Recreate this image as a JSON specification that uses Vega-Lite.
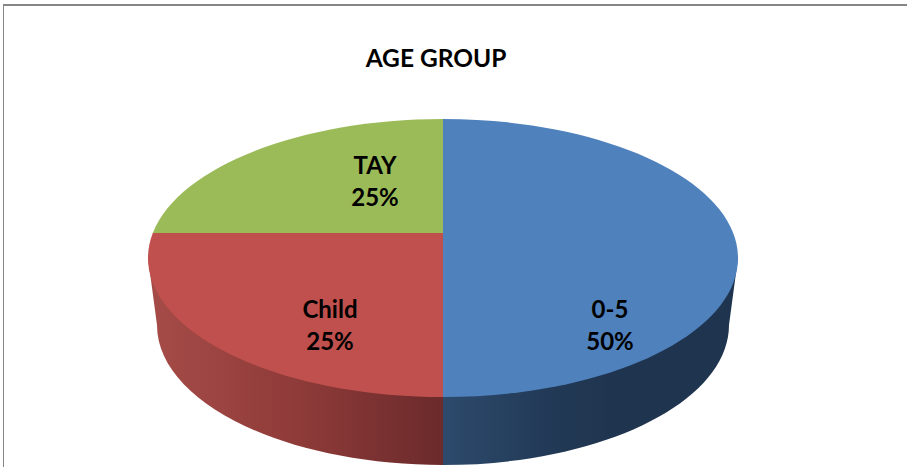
{
  "$schema": "https://vega.github.io/schema/vega-lite/v6.json",
  "width": 907,
  "height": 467,
  "autosize": "none",
  "padding": 0,
  "background": "white",
  "config": {"view": {"stroke": null}},
  "title": {"text": "AGE GROUP", "anchor": "middle", "offset": -72, "dx": -17.5, "font": "Lato", "fontSize": 24.5, "fontWeight": "bold", "color": "#000000"},
  "data": {"values": [
    {"group": "0-5", "value": 50},
    {"group": "Child", "value": 25},
    {"group": "TAY", "value": 25}
  ]},
  "transform": [{"calculate": "[datum.group, datum.value + '%']", "as": "label"}],
  "layer": [
    {
      "mark": {"type": "rule", "color": "#868686", "strokeWidth": 2},
      "encoding": {"y": {"value": 5}, "x": {"value": 3}, "x2": {"value": 907}}
    },
    {
      "mark": {"type": "rule", "color": "#868686", "strokeWidth": 1},
      "encoding": {"x": {"value": 3.5}, "y": {"value": 4}, "y2": {"value": 467}}
    },
    {
      "transform": [{"filter": "datum.group === 'Child'"}],
      "mark": {"type": "point", "filled": true, "opacity": 1, "size": 4, "xOffset": -10.5, "yOffset": -0.5,
        "shape": "M-295,25 L-286,92 A286,140 0 0 0 0,232 L0,25 Z",
        "fill": {"gradient": "linear", "x1": 0, "x2": 1, "y1": 0, "y2": 0, "stops": [
          {"offset": 0, "color": "#a64c48"},
          {"offset": 0.5, "color": "#8f3b39"},
          {"offset": 1, "color": "#6b2a2b"}
        ]}}
    },
    {
      "transform": [{"filter": "datum.group === '0-5'"}],
      "mark": {"type": "point", "filled": true, "opacity": 1, "size": 4, "xOffset": -10.5, "yOffset": -0.5,
        "shape": "M0,25 L0,232 A286,140 0 0 0 286,92 L295,25 Z",
        "fill": {"gradient": "linear", "x1": 0, "x2": 1, "y1": 0, "y2": 0, "stops": [
          {"offset": 0, "color": "#2d4a6c"},
          {"offset": 0.35, "color": "#223a57"},
          {"offset": 0.6, "color": "#1f344e"},
          {"offset": 1, "color": "#1f344e"}
        ]}}
    },
    {
      "mark": {"type": "point", "filled": true, "opacity": 1, "size": 4, "xOffset": -10.5, "yOffset": -0.5},
      "encoding": {
        "shape": {"field": "group", "type": "nominal", "legend": null, "scale": {
          "domain": ["0-5", "Child", "TAY"],
          "range": [
            "M0,-114 A295,139 0 0 1 0,164 Z",
            "M0,0 L-290.2,0 A295,139 0 0 0 0,164 Z",
            "M0,0 L0,-114 A295,139 0 0 0 -290.2,0 Z"
          ]}},
        "color": {"field": "group", "type": "nominal", "legend": null, "scale": {
          "domain": ["0-5", "Child", "TAY"],
          "range": ["#4f81bd", "#c0504d", "#9bbb59"]}}
      }
    },
    {
      "transform": [{"filter": "datum.group === '0-5'"}],
      "mark": {"type": "text", "font": "Lato", "fontSize": 24, "fontWeight": "bold", "color": "#000000", "align": "center", "baseline": "middle", "lineHeight": 32, "dx": 156.5, "dy": 77.5},
      "encoding": {"text": {"field": "label"}}
    },
    {
      "transform": [{"filter": "datum.group === 'Child'"}],
      "mark": {"type": "text", "font": "Lato", "fontSize": 24, "fontWeight": "bold", "color": "#000000", "align": "center", "baseline": "middle", "lineHeight": 32, "dx": -123.5, "dy": 77.5},
      "encoding": {"text": {"field": "label"}}
    },
    {
      "transform": [{"filter": "datum.group === 'TAY'"}],
      "mark": {"type": "text", "font": "Lato", "fontSize": 24, "fontWeight": "bold", "color": "#000000", "align": "center", "baseline": "middle", "lineHeight": 32, "dx": -78.5, "dy": -66.5},
      "encoding": {"text": {"field": "label"}}
    }
  ]
}
